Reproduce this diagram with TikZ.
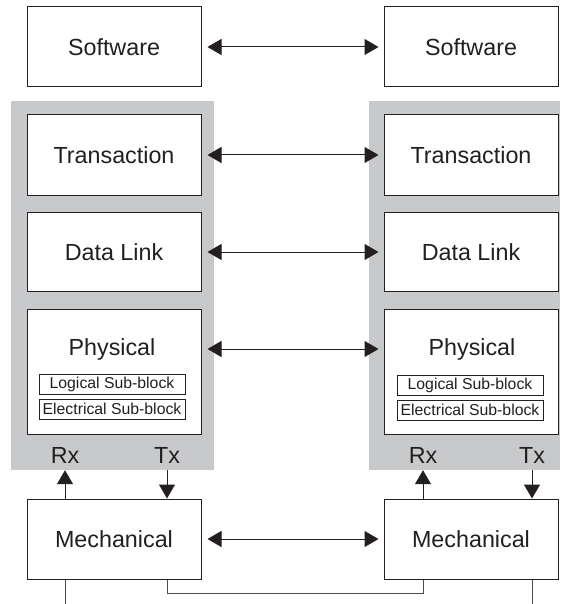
\documentclass[tikz,border=0pt]{standalone}
\usepackage{fontspec}
\setmainfont{Liberation Sans}
\usetikzlibrary{arrows.meta}
\definecolor{panelgray}{RGB}{200,201,203}
\definecolor{ink}{RGB}{35,31,32}
\begin{document}
\begin{tikzpicture}[x=1pt,y=-1pt,
 box/.style={draw=ink,line width=1pt,fill=white,minimum width=174pt,minimum height=80pt,inner sep=0pt,font=\fontsize{23.3}{27}\selectfont,text=ink},
 sub/.style={draw=ink,line width=0.9pt,fill=white,minimum width=146pt,minimum height=20pt,inner sep=0pt,font=\fontsize{15.8}{18}\selectfont,text=ink},
 panel/.style={fill=panelgray,draw=none,inner sep=0pt,minimum height=369pt},
 lbl/.style={font=\fontsize{23.3}{27}\selectfont,text=ink,inner sep=0pt},
 arr/.style={draw=ink,line width=1pt,{Triangle[length=14pt,width=16pt]}-{Triangle[length=14pt,width=16pt]},shorten <=6pt,shorten >=5pt},
 one/.style={draw=ink,line width=1pt,-{Triangle[length=14pt,width=16pt]}},
 wire/.style={draw=black!70,line width=1pt}]

\useasboundingbox (0,0) rectangle (560,604);

% grey panels
\node[panel,minimum width=203pt] (lpanel) at (112.5,285.5) {};
\node[panel,minimum width=191pt] (rpanel) at (464.5,285.5) {};

% left column
\node[box] (lsoft) at (114,47) {Software};
\node[box] (ltrans) at (114,155) {Transaction};
\node[box,minimum height=79pt] (ldl) at (114,252) {Data Link};
\node[box,minimum height=125pt] (lphy) at (114,371.5) {};
\node[lbl] (lphytxt) at (112,349) {Physical};
\node[sub] (llog) at (112,384) {Logical Sub-block};
\node[sub] (lele) at (112,409) {Electrical Sub-block};
\node[lbl] (lrx) at (65,455) {Rx};
\node[lbl] (ltx) at (167,455) {Tx};
\node[box] (lmech) at (114,539) {Mechanical};

% right column
\node[box] (rsoft) at (471,47) {Software};
\node[box] (rtrans) at (471,155) {Transaction};
\node[box,minimum height=79pt] (rdl) at (471,252) {Data Link};
\node[box,minimum height=125pt] (rphy) at (471,371.5) {};
\node[lbl] (rphytxt) at (472,349) {Physical};
\node[sub] (rlog) at (470,385) {Logical Sub-block};
\node[sub] (rele) at (470,410) {Electrical Sub-block};
\node[lbl] (rrx) at (423,455) {Rx};
\node[lbl] (rtx) at (532,455) {Tx};
\node[box] (rmech) at (471,539) {Mechanical};

% peer arrows
\draw[arr] (lsoft) -- (rsoft);
\draw[arr] (ltrans) -- (rtrans);
\draw[arr] (ldl) -- (rdl);
\draw[arr] (lphytxt -| lphy.east) -- (lphytxt -| rphy.west);
\draw[arr] (lmech) -- (rmech);

% Rx / Tx arrows
\draw[one] (lmech.north -| lrx) -- (lpanel.south -| lrx);
\draw[one] (lpanel.south -| ltx) -- (lmech.north -| ltx);
\draw[one] (rmech.north -| rrx) -- (rpanel.south -| rrx);
\draw[one] (rpanel.south -| rtx) -- (rmech.north -| rtx);

% bottom wires
\coordinate (lend) at (65,604);
\coordinate (rend) at (532,604);
\draw[wire] (lmech.south -| lrx) -- (lend);
\draw[wire] (rmech.south -| rtx) -- (rend);
\draw[wire] (lmech.south -| ltx) -- ++(0,14) -| (rmech.south -| rrx);
\end{tikzpicture}
\end{document}
